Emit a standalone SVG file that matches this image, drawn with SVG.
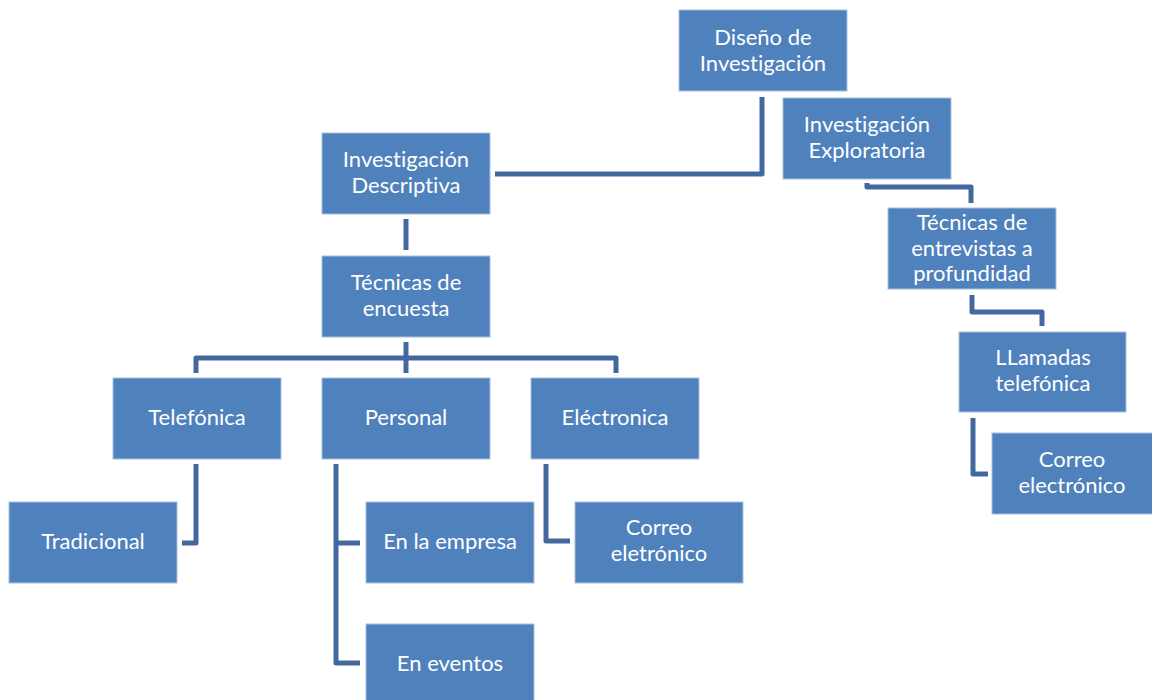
<svg xmlns="http://www.w3.org/2000/svg" width="1152" height="700" viewBox="0 0 1152 700">
<style>
.box{fill:#4F81BD;stroke:#A9C0DE;stroke-width:1}
.t{fill:#FFFFFF;font-family:Lato,"Open Sans",sans-serif;font-size:22px;text-anchor:middle;font-variant-ligatures:none;font-feature-settings:"liga" 0,"dlig" 0}
.c{fill:none;stroke:#4368A0;stroke-width:5;stroke-linejoin:round;stroke-linecap:butt}
</style>
<rect width="1152" height="700" fill="#FFFFFF"/>
<g id="connectors">
<path class="c" d="M762,97 V174 H495"/>
<path class="c" d="M867,183 V187 H971 V203"/>
<path class="c" d="M972,295 V312 H1042 V326"/>
<path class="c" d="M973,418 V474 H988"/>
<path class="c" d="M406,219 V250"/>
<path class="c" d="M406,342 V373"/>
<path class="c" d="M196,373 V358 H616 V373"/>
<path class="c" d="M196,464 V543 H182"/>
<path class="c" d="M336,464 V663 H360"/>
<path class="c" d="M336,543 H360"/>
<path class="c" d="M546,464 V541 H570"/>
</g>
<g id="n-diseno"><rect class="box" x="679" y="10" width="168" height="81"/><text class="t" x="763" y="45">Diseño de</text><text class="t" x="763" y="71">Investigación</text></g>
<g id="n-exploratoria"><rect class="box" x="783" y="98" width="168" height="81"/><text class="t" x="867" y="132">Investigación</text><text class="t" x="867" y="158">Exploratoria</text></g>
<g id="n-descriptiva"><rect class="box" x="322" y="133" width="168" height="81"/><text class="t" x="406" y="167">Investigación</text><text class="t" x="406" y="193">Descriptiva</text></g>
<g id="n-encuesta"><rect class="box" x="322" y="256" width="168" height="81"/><text class="t" x="406" y="290">Técnicas de</text><text class="t" x="406" y="316">encuesta</text></g>
<g id="n-telefonica"><rect class="box" x="113" y="378" width="168" height="81"/><text class="t" x="197" y="425">Telefónica</text></g>
<g id="n-personal"><rect class="box" x="322" y="378" width="168" height="81"/><text class="t" x="406" y="425">Personal</text></g>
<g id="n-electronica"><rect class="box" x="531" y="378" width="168" height="81"/><text class="t" x="615" y="425">Eléctronica</text></g>
<g id="n-tradicional"><rect class="box" x="9" y="502" width="168" height="81"/><text class="t" x="93" y="549">Tradicional</text></g>
<g id="n-empresa"><rect class="box" x="366" y="502" width="168" height="81"/><text class="t" x="450" y="549">En la empresa</text></g>
<g id="n-eventos"><rect class="box" x="366" y="624" width="168" height="81"/><text class="t" x="450" y="671">En eventos</text></g>
<g id="n-correo1"><rect class="box" x="575" y="502" width="168" height="81"/><text class="t" x="659" y="535">Correo</text><text class="t" x="659" y="561">eletrónico</text></g>
<g id="n-entrevistas"><rect class="box" x="888" y="208" width="168" height="81"/><text class="t" x="972" y="230">Técnicas de</text><text class="t" x="972" y="256">entrevistas a</text><text class="t" x="972" y="281">profundidad</text></g>
<g id="n-llamadas"><rect class="box" x="959" y="332" width="167" height="80"/><text class="t" x="1043" y="365">LLamadas</text><text class="t" x="1043" y="391">telefónica</text></g>
<g id="n-correo2"><rect class="box" x="992" y="433" width="168" height="81"/><text class="t" x="1072" y="467">Correo</text><text class="t" x="1072" y="493">electrónico</text></g>
</svg>
